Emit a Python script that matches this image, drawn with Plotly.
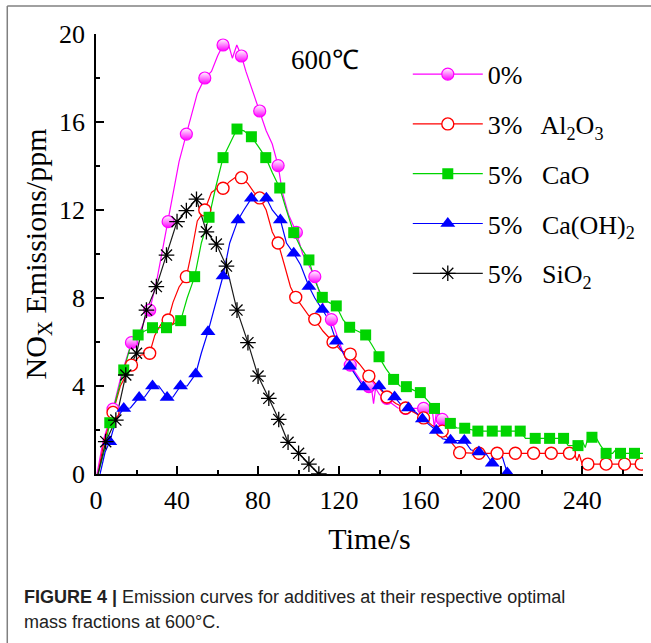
import plotly.graph_objects as go

# ---------------- data ----------------
# 0 %
t0_line = [0.5, 3.5, 8.4, 12.5, 17.5, 21, 24, 26.5, 30, 33, 35.6, 38, 41, 44.6, 47, 50, 53.7, 57, 60, 62.7,
           65.5, 67.3, 69.5, 71.8, 74, 77, 80.8, 84, 87, 89.9, 92, 95, 98.9, 102, 105, 108, 111, 113, 116.2, 119,
           122, 125.5, 128, 131, 134.7, 136, 137, 138, 140, 143.6, 146, 149, 152.8, 157, 161.7, 164, 166, 167, 168,
           170.9, 177.5]
v0_line = [0, 1.5, 2.95, 4.5, 5.97, 6.3, 7.0, 7.45, 8.8, 10.3, 11.47, 12.8, 14.2, 15.45, 16.3, 17.3, 18.0, 18.3,
           19.0, 19.5, 19.5, 18.9, 19.5, 19.0, 18.3, 17.5, 16.5, 15.6, 15.0, 14.02, 12.8, 11.8, 10.98, 10.0, 9.5,
           8.97, 8.0, 7.5, 7.02, 6.3, 5.5, 4.95, 4.6, 4.2, 3.97, 3.9, 3.2, 3.9, 3.6, 3.44, 3.2, 3.0, 2.98, 2.98,
           2.98, 2.9, 2.9, 2.1, 2.8, 2.48, 2.48]
t0_mark = [8.4, 17.5, 26.5, 35.6, 44.6, 53.7, 62.7, 71.8, 80.8, 89.9, 98.9, 108.0, 116.2, 125.5, 134.7, 143.6,
           152.8, 161.7, 170.9]
v0_mark = [2.95, 5.97, 7.45, 11.47, 15.45, 18.0, 19.5, 19.0, 16.5, 14.02, 10.98, 8.97, 7.02, 4.95, 3.97, 3.44,
           2.98, 2.98, 2.48]

# 3 % Al2O3
t1_line = [1, 4, 8.4, 12, 17.5, 22, 26.5, 29, 32, 35.6, 38, 41, 44.6, 47, 50, 53.7, 57, 60, 62.7, 66, 69, 71.8,
           75, 78, 80.8, 84, 87, 89.9, 93, 96, 98.6, 102, 105, 108, 112, 117, 121, 125.5, 130, 134.7, 139, 143.6,
           148, 152.8, 157, 161.7, 166, 170.9, 175, 179.5, 189, 198, 207, 216, 224.7, 233.7, 236, 237.5, 238.5,
           240, 242.8, 251.8, 260.9, 269.1, 270]
v1_line = [0, 1.5, 2.8, 4.0, 4.95, 5.4, 5.49, 6.3, 6.8, 7.0, 7.8, 8.5, 8.97, 10.0, 11.5, 12.0, 12.8, 13.0, 12.99,
           13.3, 13.5, 13.47, 13.2, 12.8, 12.55, 12.0, 11.0, 10.5, 9.5, 8.5, 8.03, 7.6, 7.2, 7.03, 6.5, 6.0, 5.6,
           5.45, 5.0, 4.45, 4.0, 3.5, 3.2, 3.0, 2.8, 2.55, 2.2, 1.95, 1.5, 0.97, 0.94, 0.94, 0.94, 0.94, 0.94,
           0.94, 0.94, 0.6, 0.9, 0.45, 0.45, 0.45, 0.45, 0.45, 0.45]
t1_mark = [8.4, 17.5, 26.5, 35.6, 44.6, 53.7, 62.7, 71.8, 80.8, 89.9, 98.6, 108.0, 117.0, 125.5, 134.7, 143.6,
           152.8, 161.7, 170.9, 179.5, 189, 198, 207, 216, 224.7, 233.7, 242.8, 251.8, 260.9, 269.1]
v1_mark = [2.8, 4.95, 5.49, 7.0, 8.97, 12.0, 12.99, 13.47, 12.55, 10.5, 8.03, 7.03, 6.0, 5.45, 4.45, 3.5, 3.0,
           2.55, 1.95, 0.97, 0.94, 0.94, 0.94, 0.94, 0.94, 0.94, 0.45, 0.45, 0.45, 0.45]

# 5 % CaO
t2_line = [1, 4, 6.8, 10, 13.7, 17, 20.8, 24, 27.9, 31, 34.8, 38, 41.8, 45, 48.7, 52, 55.8, 59, 62.7, 66, 69.6,
           73, 76.7, 80, 83.8, 87, 90.7, 94, 97.6, 101, 105.1, 108, 111.7, 115, 118.6, 122, 125.2, 129, 133.1, 136,
           139.7, 143, 146.9, 150, 153.2, 157, 160.1, 164, 167.1, 171, 174.9, 178, 182.0, 188.5, 195.6, 202.5,
           209.4, 212, 216.8, 223.9, 230.8, 233, 237.9, 240, 241.5, 243, 244.8, 247, 249, 251.8, 255, 256.5,
           258.9, 265.8, 270]
v2_line = [0, 1.0, 2.33, 3.5, 4.73, 5.8, 6.32, 6.5, 6.65, 6.65, 6.65, 6.8, 6.97, 8.0, 8.97, 10.5, 11.67, 13.0,
           14.38, 15.0, 15.68, 15.6, 15.33, 14.9, 14.38, 13.7, 13.0, 12.0, 10.97, 10.3, 9.73, 8.8, 8.03, 7.8,
           7.64, 7.0, 6.67, 6.5, 6.32, 5.9, 5.33, 4.8, 4.3, 4.0, 3.97, 3.8, 3.7, 3.3, 2.98, 2.6, 2.3, 2.1, 2.08,
           1.95, 1.95, 1.95, 1.95, 1.62, 1.62, 1.62, 1.62, 1.3, 1.29, 1.5, 1.2, 1.7, 1.67, 1.62, 1.3, 0.94, 0.94,
           1.1, 0.94, 0.94, 0.94]
t2_mark = [6.8, 13.7, 20.8, 27.9, 34.8, 41.8, 48.7, 55.8, 62.7, 69.6, 76.7, 83.8, 90.7, 97.6, 105.1, 111.7,
           118.6, 125.2, 133.1, 139.7, 146.9, 153.2, 160.1, 167.1, 174.9, 182.0, 188.5, 195.6, 202.5, 209.4,
           216.8, 223.9, 230.8, 237.9, 244.8, 251.8, 258.9, 265.8]
v2_mark = [2.33, 4.73, 6.32, 6.65, 6.65, 6.97, 8.97, 11.67, 14.38, 15.68, 15.33, 14.38, 13.0, 10.97, 9.73, 8.03,
           7.64, 6.67, 6.32, 5.33, 4.3, 3.97, 3.7, 2.98, 2.3, 2.08, 1.95, 1.95, 1.95, 1.95, 1.62, 1.62, 1.62,
           1.29, 1.67, 0.94, 0.94, 0.94]

# 5 % Ca(OH)2
t3_line = [2, 4.5, 6.8, 10, 13.7, 17, 21.3, 24, 27.9, 31, 35.1, 38, 41.7, 45, 49.2, 52, 55.3, 59, 62.7, 66, 70.1,
           73, 76.7, 80, 84.1, 87, 91.0, 94, 97.6, 101, 105.1, 108, 111.7, 115, 118.6, 122, 125.2, 128, 132.0,
           136, 139.7, 143, 147.4, 151, 154.2, 158, 161.1, 165, 168.0, 171, 175.0, 181.8, 185, 189.0, 192, 195.6,
           197, 200, 203.0]
v3_line = [0, 1.0, 1.47, 2.5, 2.98, 3.0, 3.48, 3.5, 4.0, 4.0, 3.48, 3.5, 4.0, 4.0, 4.55, 5.5, 6.47, 7.8, 9.0,
           10.5, 11.55, 12.0, 12.53, 12.53, 12.53, 12.0, 11.55, 10.5, 10.03, 9.5, 8.52, 8.0, 7.48, 7.0, 6.03,
           5.5, 4.9, 4.5, 3.95, 3.95, 4.0, 3.6, 3.5, 3.1, 3.0, 2.8, 2.5, 2.2, 1.98, 1.6, 1.53, 1.52, 1.1, 1.0,
           1.0, 0.49, 0.95, 0.95, 0.05]
t3_mark = [6.8, 13.7, 21.3, 27.9, 35.1, 41.7, 49.2, 55.3, 62.7, 70.1, 76.7, 84.1, 91.0, 97.6, 105.1, 111.7,
           118.6, 125.2, 132.0, 139.7, 147.4, 154.2, 161.1, 168.0, 175.0, 181.8, 189.0, 195.6, 203.0]
v3_mark = [1.47, 2.98, 3.48, 4.0, 3.48, 4.0, 4.55, 6.47, 9.0, 11.55, 12.53, 12.53, 11.55, 10.03, 8.52, 7.48,
           6.03, 4.9, 3.95, 4.0, 3.5, 3.0, 2.5, 1.98, 1.53, 1.52, 1.0, 0.49, 0.05]

# 5 % SiO2
t4_mark = [4.8, 9.8, 14.7, 20.0, 24.9, 29.8, 34.8, 40.0, 44.6, 49.6, 54.5, 59.4, 64.4, 69.6, 75.0, 80.0, 85.3,
           90.2, 94.8, 100.0, 105.1, 110.0]
v4_mark = [1.47, 2.45, 4.5, 5.49, 7.45, 8.52, 9.95, 11.47, 11.97, 12.49, 11.01, 10.45, 9.45, 7.45, 5.97, 4.45,
           3.44, 2.48, 1.44, 0.94, 0.45, 0.0]
t4_line = [1] + t4_mark
v4_line = [0] + v4_mark

gap = "\u00a0\u00a0 "
names = ["0%", "3%" + gap + "Al<sub>2</sub>O<sub>3</sub>", "5%" + gap + "CaO",
         "5%" + gap + "Ca(OH)<sub>2</sub>", "5%" + gap + "SiO<sub>2</sub>"]

for a, b in [(t0_line, v0_line), (t0_mark, v0_mark), (t1_line, v1_line), (t1_mark, v1_mark),
             (t2_line, v2_line), (t2_mark, v2_mark), (t3_line, v3_line), (t3_mark, v3_mark)]:
    assert len(a) == len(b), (len(a), len(b))

# ---------------- styles ----------------
colors = ["#ff00ff", "#ff0000", "#00d400", "#0000ff", "#1a1a1a"]
markers = [
    dict(symbol="circle", size=12, color="#ffffff",
         gradient=dict(type="vertical", color="#ff00ff"),
         line=dict(color="#ff00ff", width=1.2)),
    dict(symbol="circle", size=12, color="#ffffff", line=dict(color="#ff0000", width=1.4)),
    dict(symbol="square", size=11, color="#00d400", line=dict(width=0)),
    dict(symbol="triangle-up", size=13, color="#0000ff", line=dict(width=0)),
    dict(symbol="asterisk", size=13, color="#000000", line=dict(color="#000000", width=1.3)),
]
lines = [(t0_line, v0_line), (t1_line, v1_line), (t2_line, v2_line), (t3_line, v3_line), (t4_line, v4_line)]
marks = [(t0_mark, v0_mark), (t1_mark, v1_mark), (t2_mark, v2_mark), (t3_mark, v3_mark), (t4_mark, v4_mark)]

fig = go.Figure()
for i in range(5):
    fig.add_trace(go.Scatter(x=lines[i][0], y=lines[i][1], mode="lines",
                             line=dict(color=colors[i], width=1.2), showlegend=False,
                             legendgroup=str(i), hoverinfo="skip"))
for i in range(5):
    fig.add_trace(go.Scatter(x=marks[i][0], y=marks[i][1], mode="markers",
                             marker=markers[i], showlegend=False, legendgroup=str(i)))
for i in range(5):
    fig.add_trace(go.Scatter(x=[None], y=[None], mode="lines+markers", name=names[i],
                             line=dict(color=colors[i], width=1.2), marker=markers[i],
                             legendgroup=str(i)))

serif = "Liberation Serif, Times New Roman, serif"
axis_common = dict(showline=True, linecolor="black", linewidth=1.6, ticks="inside", ticklen=8,
                   tickwidth=1.6, tickcolor="black", showgrid=False, zeroline=False,
                   tickfont=dict(family=serif, size=26, color="black"), mirror=False)

fig.update_layout(
    width=651, height=643,
    margin=dict(l=96, r=8, t=34, b=169),
    paper_bgcolor="white", plot_bgcolor="white",
    xaxis=dict(range=[0, 270], tick0=0, dtick=40,
               minor=dict(dtick=20, ticks="inside", ticklen=4, tickwidth=1.6, tickcolor="black"),
               title=dict(text="Time/s", font=dict(family=serif, size=30, color="black"), standoff=14),
               ticklabelstandoff=2,
               **axis_common),
    yaxis=dict(range=[0, 20], tick0=0, dtick=4,
               minor=dict(dtick=2, ticks="inside", ticklen=4, tickwidth=1.6, tickcolor="black"),
               title=dict(text="NO<sub>X</sub> Emissions/ppm", font=dict(family=serif, size=30, color="black"),
                          standoff=4),
               ticklabelstandoff=4,
               **axis_common),
    legend=dict(x=0.57, y=0.962, xanchor="left", yanchor="top", bgcolor="rgba(0,0,0,0)",
                font=dict(family=serif, size=26, color="black"), tracegroupgap=13, itemwidth=70),
    showlegend=True,
)

fig.add_annotation(x=113, y=18.8, xref="x", yref="y", text="600\u2103", showarrow=False,
                   font=dict(family=serif, size=27, color="black"))

cap_font = "Liberation Sans, Arial, sans-serif"
fig.add_annotation(x=-0.1357, y=-0.2795, xref="paper", yref="paper", xanchor="left", yanchor="middle",
                   showarrow=False, align="left",
                   text="<b>FIGURE 4 |</b> Emission curves for additives at their respective optimal",
                   font=dict(family=cap_font, size=18, color="#222222"))
fig.add_annotation(x=-0.1357, y=-0.3364, xref="paper", yref="paper", xanchor="left", yanchor="middle",
                   showarrow=False, align="left", text="mass fractions at 600°C.",
                   font=dict(family=cap_font, size=18, color="#222222"))

# outer frame (top and left edges)
fig.add_shape(type="line", xref="paper", yref="paper", x0=-0.1622, x1=1.02, y0=1.0636, y1=1.0636,
              line=dict(color="#808080", width=1.5))
fig.add_shape(type="line", xref="paper", yref="paper", x0=-0.1622, x1=-0.1622, y0=1.0636, y1=-0.40,
              line=dict(color="#808080", width=1.5))

fig.write_html("out.html")
